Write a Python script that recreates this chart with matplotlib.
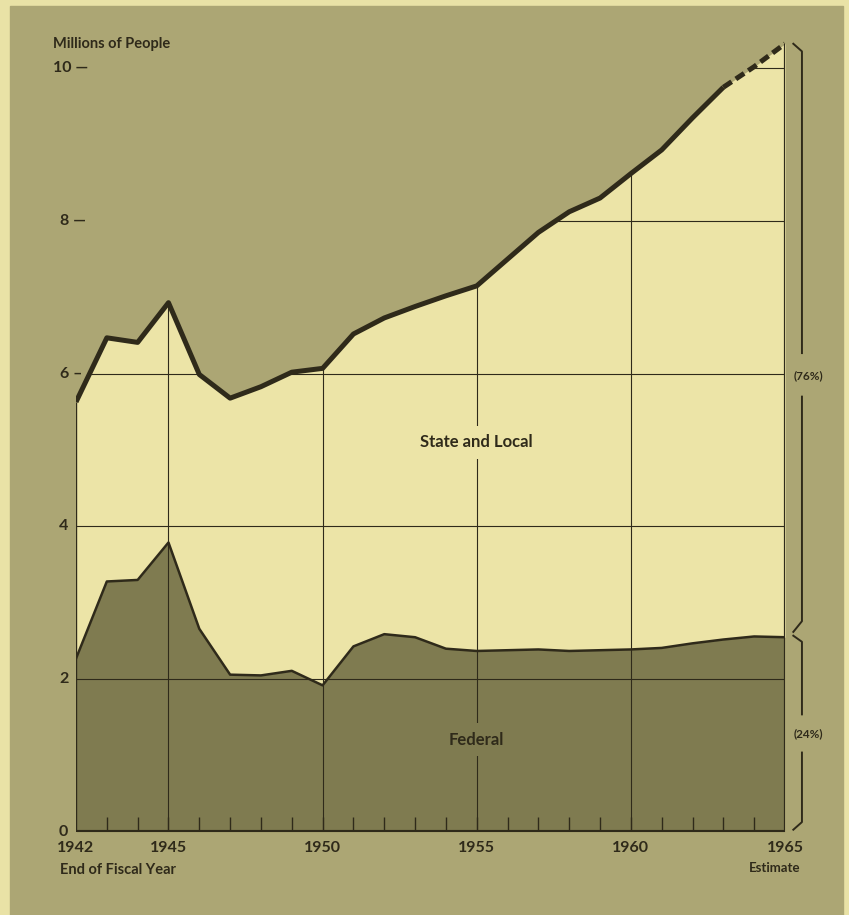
import numpy as np
import matplotlib
matplotlib.use("Agg")
import matplotlib.pyplot as plt
from matplotlib.patches import Rectangle

plt.rcParams['font.family'] = ['Lato', 'DejaVu Sans']

# data (millions of people, end of fiscal year)
years = list(range(1942, 1966))
total = [5.63, 6.47, 6.41, 6.93, 5.99, 5.68, 5.83, 6.02, 6.07, 6.52, 6.73, 6.88,
         7.02, 7.15, 7.50, 7.85, 8.12, 8.30, 8.62, 8.93, 9.35, 9.75, 10.02, 10.32]
federal = [2.27, 3.28, 3.30, 3.79, 2.66, 2.06, 2.05, 2.11, 1.92, 2.43, 2.59, 2.55,
           2.40, 2.37, 2.38, 2.39, 2.37, 2.38, 2.39, 2.41, 2.47, 2.52, 2.56, 2.55]
year_labels = [1942, 1945, 1950, 1955, 1960, 1965]
y_ticks = [0, 2, 4, 6, 8, 10]
y_texts = ["0", "2", "4", "6 \u2013", "8 \u2014", "10 \u2014"]

ink = "#2f2a1a"
panel = "#aca674"
state_col = "#ece4a7"
fed_col = "#7f7b50"
outer = "#e9e2a6"

fig = plt.figure(figsize=(8.49, 9.15), dpi=100, facecolor=outer)
fig.patches.append(Rectangle((10 / 849, 0), 833 / 849, 909 / 915,
                             transform=fig.transFigure, color=panel, zorder=-10))

ax = fig.add_axes([76 / 849, 83 / 915, 709 / 849, 802 / 915])
ax.set_xlim(1942, 1965)
ax.set_ylim(0, 10.5)
ax.axis("off")

# fills
region = ax.fill_between(years, 0, total, color=state_col, lw=0, zorder=1)
ax.fill_between(years, 0, federal, color=fed_col, lw=0, zorder=2)
clip = region.get_paths()[0]

# grid, only inside the filled area
gl = ax.hlines([2, 4, 6, 8, 10], 1942, 1965, color=ink, lw=0.8, zorder=3)
gl.set_clip_path(clip, ax.transData)
vl = ax.vlines([1945, 1950, 1955, 1960], 0, 10.5, color=ink, lw=0.8, zorder=3)
vl.set_clip_path(clip, ax.transData)

# lines
ax.plot(years, federal, color=ink, lw=1.8, zorder=5)
ax.plot(years[:22], total[:22], color=ink, lw=3.6, zorder=6, solid_capstyle="butt")
ax.plot(years[21:], total[21:], color=ink, lw=3.6, zorder=6, ls=(0, (2.0, 1.0)))
ax.vlines(1942, 0, total[0], color=ink, lw=1.0, zorder=4)
ax.vlines(1965, 0, total[-1], color=ink, lw=1.6, zorder=4)
ax.hlines(0, 1942, 1965, color=ink, lw=3.0, zorder=6)
ax.vlines(years[1:-1], 0, 0.2, color=ink, lw=1.0, zorder=4)

# y labels (left edge offsets in pixels)
offsets = [-17, -17, -17, -16, -16, -23]
for v, s, dx in zip(y_ticks, y_texts, offsets):
    ax.annotate(s, (1942, v), xytext=(dx, 0), textcoords="offset pixels",
                ha="left", va="center", fontsize=11.5,
                fontweight="bold", color=ink, annotation_clip=False)
ax.annotate("Millions of People", (1942, 10), xytext=(-23, 24), textcoords="offset pixels",
            ha="left", va="center", fontsize=10.5, fontweight="bold", color=ink,
            annotation_clip=False)

# x labels
for yr in year_labels:
    ax.annotate(str(yr), (yr, 0), xytext=(0, -16), textcoords="offset pixels",
                ha="center", va="center", fontsize=11.5, fontweight="bold", color=ink,
                annotation_clip=False)
ax.annotate("End of Fiscal Year", (1942, 0), xytext=(-16, -38), textcoords="offset pixels",
            ha="left", va="center", fontsize=10.5, fontweight="bold", color=ink,
            annotation_clip=False)
ax.annotate("Estimate", (1965, 0), xytext=(15, -36), textcoords="offset pixels",
            ha="right", va="center", fontsize=9.5, fontweight="bold", color=ink,
            annotation_clip=False)

# area labels
ax.text(1955, 5.1, "State and Local", ha="center", va="center", fontsize=12,
        fontweight="bold", color=ink, zorder=7,
        bbox=dict(boxstyle="square,pad=0.5", fc=state_col, ec="none"))
ax.text(1955, 1.21, "Federal", ha="center", va="center", fontsize=12,
        fontweight="bold", color=ink, zorder=7,
        bbox=dict(boxstyle="square,pad=0.5", fc=fed_col, ec="none"))

# braces at the right
bx, bi = 1965.55, 1965.27
braces = [
    ([bi, bx, bx], [total[-1], total[-1] - 0.1, 6.27]),
    ([bx, bx, bi], [5.70, 2.76, 2.62]),
    ([bi, bx, bx], [2.57, 2.49, 1.54]),
    ([bx, bx, bi], [1.04, 0.13, 0.03]),
]
for xs, ys in braces:
    ax.plot(xs, ys, color=ink, lw=1.4, clip_on=False, zorder=6)
ax.text(1965.27, 5.97, "(76%)", ha="left", va="center", fontsize=8.5,
        fontweight="bold", color=ink)
ax.text(1965.27, 1.29, "(24%)", ha="left", va="center", fontsize=8.5,
        fontweight="bold", color=ink)

fig.savefig("out.png", dpi=100, facecolor=fig.get_facecolor())
